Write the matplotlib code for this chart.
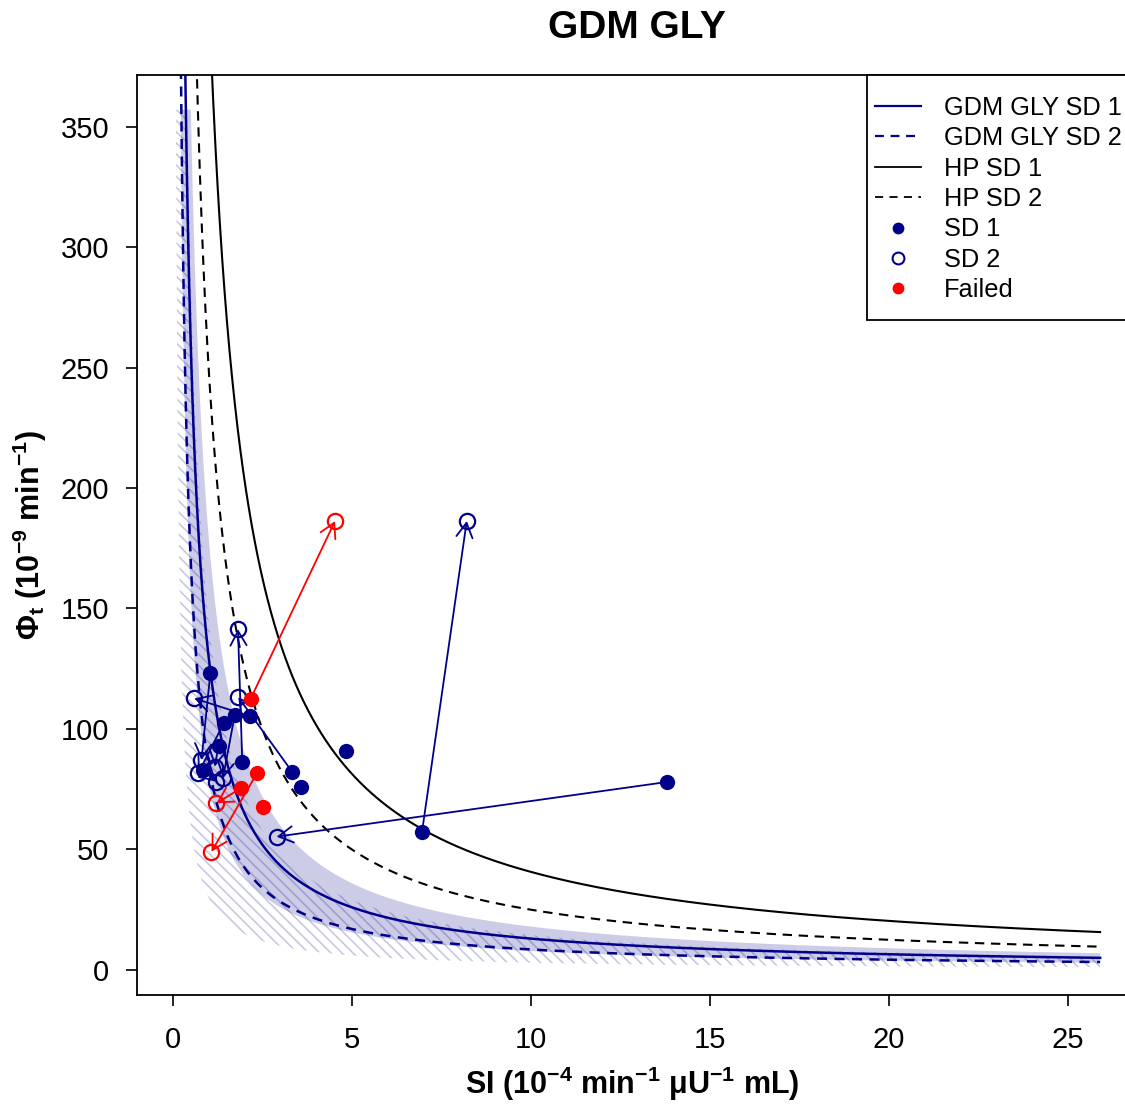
import numpy as np
import matplotlib
matplotlib.use("Agg")
import matplotlib.pyplot as plt
from matplotlib.patches import Polygon, Rectangle
from matplotlib.lines import Line2D

plt.rcParams['font.family'] = ['Liberation Sans', 'DejaVu Sans']
plt.rcParams['mathtext.fontset'] = 'custom'
plt.rcParams['mathtext.rm'] = 'Liberation Sans'
plt.rcParams['mathtext.it'] = 'Liberation Sans:italic'
plt.rcParams['mathtext.bf'] = 'Liberation Sans:bold'
plt.rcParams['hatch.linewidth'] = 1.2

NAVY = '#00008B'
RED = '#FF0000'
HATCH = '\\' * 3

# Disposition index constants (SI * Phi_t) for the iso-curves
hp_sd1 = 407.0
hp_sd2 = 250.0
gdm_sd1 = 130.0
gdm_sd2 = 85.0
gdm_sd1_band = (78.0, 180.0)
gdm_sd2_band = (30.0, 145.0)
band_top = 357.0
si_max = 25.9

# Subjects: SD1 (filled) -> SD2 (open), arrows from SD1 to SD2
sd1_si = [13.8, 6.96, 3.33, 1.94, 1.05, 1.73, 2.15, 1.43, 1.28, 0.85]
sd1_phi = [78.0, 57.3, 82.3, 86.4, 123.4, 105.8, 105.3, 102.6, 93.1, 83.0]
sd2_si = [2.90, 8.21, 1.83, 1.82, 0.80, 1.40, 0.60, 0.71, 1.17, 1.22]
sd2_phi = [55.3, 186.3, 113.2, 141.4, 87.1, 79.5, 112.7, 81.6, 84.4, 78.1]

# SD1 subjects without a second study day
single_si = [4.83, 3.59]
single_phi = [91.0, 76.1]

# Failed subjects
failed_sd1_si = [2.17, 2.35, 1.90]
failed_sd1_phi = [112.4, 81.6, 75.4]
failed_sd2_si = [4.53, 1.08, 1.22]
failed_sd2_phi = [186.3, 49.1, 69.2]
failed_single_si = [2.53]
failed_single_phi = [67.8]

W, H = 1125, 1109
fig = plt.figure(figsize=(W / 100, H / 100), dpi=100)
ax = fig.add_axes([137 / W, 1 - 995 / H, (1127 - 137) / W, (995 - 75) / H])
ax.set_xlim(-1.0, 26.65)
ax.set_ylim(-10.4, 371.4)


def band_polygon(k_lo, k_hi):
    x_lo = np.linspace(k_lo / band_top, si_max, 600)
    x_hi = np.linspace(k_hi / band_top, si_max, 600)
    pts_lo = np.column_stack([x_lo, k_lo / x_lo])
    pts_hi = np.column_stack([x_hi[::-1], k_hi / x_hi[::-1]])
    return np.vstack([pts_lo, pts_hi])


# Uncertainty bands
ax.add_patch(Polygon(band_polygon(*gdm_sd1_band), closed=True,
                     facecolor=(0, 0, 0.545, 0.2), edgecolor='none', lw=0, zorder=1))
ax.add_patch(Polygon(band_polygon(*gdm_sd2_band), closed=True,
                     facecolor='none', edgecolor=(0, 0, 0.545, 0.22), lw=0,
                     hatch=HATCH, zorder=1.5))

# Iso-disposition curves
xs = np.linspace(0.05, si_max, 3000)
ax.plot(xs, gdm_sd1 / xs, color=NAVY, lw=1.8, zorder=2)
ax.plot(xs, gdm_sd2 / xs, color=NAVY, lw=1.8, dashes=(4, 3), zorder=2)
ax.plot(xs, hp_sd1 / xs, color='black', lw=1.5, zorder=2)
ax.plot(xs, hp_sd2 / xs, color='black', lw=1.5, dashes=(4.5, 3.2), zorder=2)

arrow_kw = dict(arrowstyle='->,head_length=0.8,head_width=0.45',
                shrinkA=0, shrinkB=0, mutation_scale=13, lw=1.3)
for x0, y0, x1, y1 in zip(sd1_si, sd1_phi, sd2_si, sd2_phi):
    ax.annotate('', xy=(x1, y1), xytext=(x0, y0),
                arrowprops=dict(color=NAVY, **arrow_kw), zorder=3)
for x0, y0, x1, y1 in zip(failed_sd1_si, failed_sd1_phi, failed_sd2_si, failed_sd2_phi):
    ax.annotate('', xy=(x1, y1), xytext=(x0, y0),
                arrowprops=dict(color=RED, **arrow_kw), zorder=3)

ms = 11
ax.plot(sd2_si, sd2_phi, 'o', ms=ms, mfc='none', mec=NAVY, mew=1.6, zorder=4)
ax.plot(failed_sd2_si, failed_sd2_phi, 'o', ms=ms, mfc='none', mec=RED, mew=1.6, zorder=4)
ax.plot(sd1_si + single_si, sd1_phi + single_phi, 'o', ms=ms, color=NAVY, mec='none', zorder=5)
ax.plot(failed_sd1_si + failed_single_si, failed_sd1_phi + failed_single_phi, 'o',
        ms=ms, color=RED, mec='none', zorder=5)

ax.set_xticks([0, 5, 10, 15, 20, 25])
ax.set_yticks([0, 50, 100, 150, 200, 250, 300, 350])
ax.tick_params(direction='out', length=8, width=1.2, labelsize=21, pad=12)
ax.tick_params(axis='x', pad=14)
for s in ax.spines.values():
    s.set_linewidth(1.3)

ax.set_xlabel(r'$\mathbf{SI\ (10^{-4}\ min^{-1}\ μU^{-1}\ mL)}$', fontsize=22, labelpad=8)
ax.set_ylabel(r'$\mathbf{\Phi_t\ (10^{-9}\ min^{-1})}$', fontsize=22, labelpad=8)
fig.text(637 / W, 1 - 28 / H, 'GDM GLY', ha='center', va='center',
         fontsize=28, fontweight='bold')

# Legend: entries placed without a frame, box drawn separately
handles = [
    Line2D([], [], color=NAVY, lw=1.6),
    Line2D([], [], color=NAVY, lw=1.6, dashes=(4, 3)),
    Line2D([], [], color='black', lw=1.3),
    Line2D([], [], color='black', lw=1.3, dashes=(4.5, 3.5)),
    Line2D([], [], ls='none', marker='o', ms=8.5, color=NAVY, mec='none'),
    Line2D([], [], ls='none', marker='o', ms=8.5, mfc='none', mec=NAVY, mew=1.5),
    Line2D([], [], ls='none', marker='o', ms=8.5, color=RED, mec='none'),
]
labels = ['GDM GLY SD 1', 'GDM GLY SD 2', 'HP SD 1', 'HP SD 2', 'SD 1', 'SD 2', 'Failed']
leg = fig.legend(handles, labels, loc='upper left',
                 bbox_to_anchor=(875 / W, 1 - 96 / H), bbox_transform=fig.transFigure,
                 fontsize=18.3, frameon=False, borderpad=0, borderaxespad=0,
                 handlelength=1.8, handletextpad=0.9, labelspacing=0.25)
fig.add_artist(Rectangle((867 / W, 1 - 320 / H), (1127 - 867) / W, (320 - 75) / H,
                         transform=fig.transFigure, facecolor='white',
                         edgecolor='black', lw=1.3, zorder=4))
leg.set_zorder(5)

fig.savefig('out.png', dpi=100)
